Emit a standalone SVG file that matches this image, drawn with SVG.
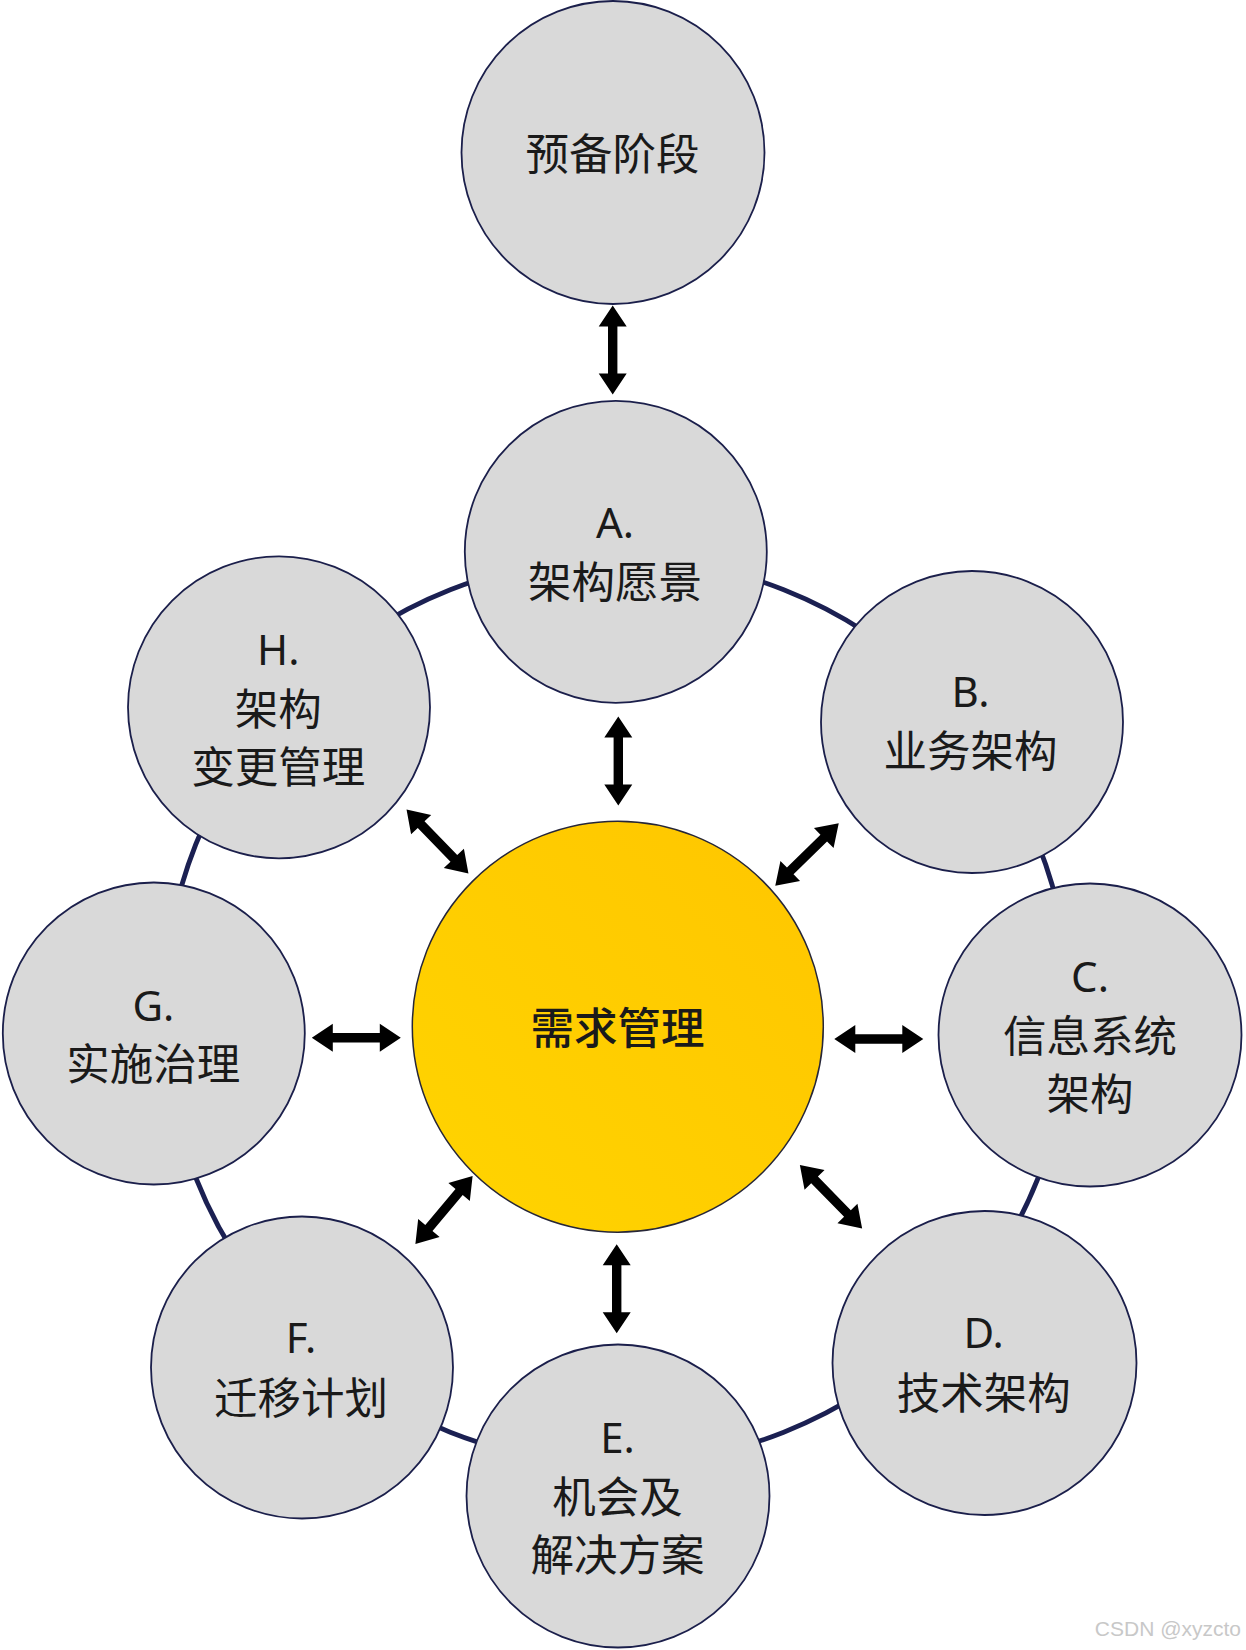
<svg xmlns="http://www.w3.org/2000/svg" width="1246" height="1650" viewBox="0 0 1246 1650">
<style>
.node{fill:#d9d9d9;stroke:#1b1f4b;stroke-width:1.8}
.ring{fill:none;stroke:#1b2052;stroke-width:4.8}
.lat{font-family:"Noto Sans","Open Sans","Liberation Sans",sans-serif;font-size:42px;fill:#1a1a1a;text-anchor:middle}
.cjk{font-family:"Noto Sans CJK SC","Noto Sans",sans-serif;font-size:43.5px;fill:#1a1a1a;text-anchor:middle}
.arrow{fill:#000}
.wm{font-family:"Liberation Sans",Arial,sans-serif;font-size:21px;fill:#c8c8c8;text-anchor:end}
</style>
<defs>
<linearGradient id="gold" x1="0" y1="1" x2="1" y2="0">
<stop offset="0" stop-color="#ffd400"/>
<stop offset="1" stop-color="#ffc600"/>
</linearGradient>
<path id="dbl" d="M-44.5,0 L-23.5,-14 L-23.5,-4.7 L23.5,-4.7 L23.5,-14 L44.5,0 L23.5,14 L23.5,4.7 L-23.5,4.7 L-23.5,14 Z"/>
</defs>
<rect width="1246" height="1650" fill="#fff"/>
<circle class="ring" cx="617" cy="1011" r="453"/>
<g id="connectors" class="arrow">
<use href="#dbl" transform="translate(612.7,350) rotate(90)"/>
<use href="#dbl" transform="translate(618.3,761) rotate(90)"/>
<use href="#dbl" transform="translate(356.3,1037.7)"/>
<use href="#dbl" transform="translate(878.8,1039)"/>
<use href="#dbl" transform="translate(616.7,1288.7) rotate(90)"/>
<use href="#dbl" transform="translate(437.5,841.5) rotate(45.9)"/>
<use href="#dbl" transform="translate(807,854.5) rotate(-44.5)"/>
<use href="#dbl" transform="translate(444,1210) rotate(-50)"/>
<use href="#dbl" transform="translate(831,1196.7) rotate(45.6)"/>
</g>
<g id="prelim">
<circle class="node" cx="613" cy="152.5" r="151.5"/>
<text class="cjk" x="612.5" y="170">预备阶段</text>
</g>
<g id="nodeA">
<circle class="node" cx="615.8" cy="551.8" r="151"/>
<text class="lat" x="615" y="538">A.</text>
<text class="cjk" x="615" y="598">架构愿景</text>
</g>
<g id="nodeB">
<circle class="node" cx="972" cy="722" r="151"/>
<text class="lat" x="970.5" y="707">B.</text>
<text class="cjk" x="970.5" y="767">业务架构</text>
</g>
<g id="nodeC">
<circle class="node" cx="1090" cy="1035" r="151.5"/>
<text class="lat" x="1090" y="992">C.</text>
<text class="cjk" x="1090" y="1052">信息系统</text>
<text class="cjk" x="1090" y="1110">架构</text>
</g>
<g id="nodeD">
<circle class="node" cx="984.5" cy="1363" r="152"/>
<text class="lat" x="983.7" y="1348">D.</text>
<text class="cjk" x="983.7" y="1409">技术架构</text>
</g>
<g id="nodeE">
<circle class="node" cx="618" cy="1496" r="151.5"/>
<text class="lat" x="617.5" y="1453">E.</text>
<text class="cjk" x="617.5" y="1513">机会及</text>
<text class="cjk" x="617.5" y="1571">解决方案</text>
</g>
<g id="nodeF">
<circle class="node" cx="302" cy="1367.5" r="151"/>
<text class="lat" x="301" y="1353">F.</text>
<text class="cjk" x="301" y="1414">迁移计划</text>
</g>
<g id="nodeG">
<circle class="node" cx="153.8" cy="1033.5" r="151"/>
<text class="lat" x="153.3" y="1021">G.</text>
<text class="cjk" x="153.3" y="1080">实施治理</text>
</g>
<g id="nodeH">
<circle class="node" cx="279" cy="707.3" r="151"/>
<text class="lat" x="278.3" y="665">H.</text>
<text class="cjk" x="278.3" y="725">架构</text>
<text class="cjk" x="278.3" y="783">变更管理</text>
</g>
<g id="center">
<circle cx="617.8" cy="1026.7" r="205.5" fill="url(#gold)" stroke="#262638" stroke-width="1.5"/>
<text class="cjk" x="617.5" y="1044" style="font-weight:500">需求管理</text>
</g>
<text class="wm" x="1241" y="1636">CSDN @xyzcto</text>
</svg>
